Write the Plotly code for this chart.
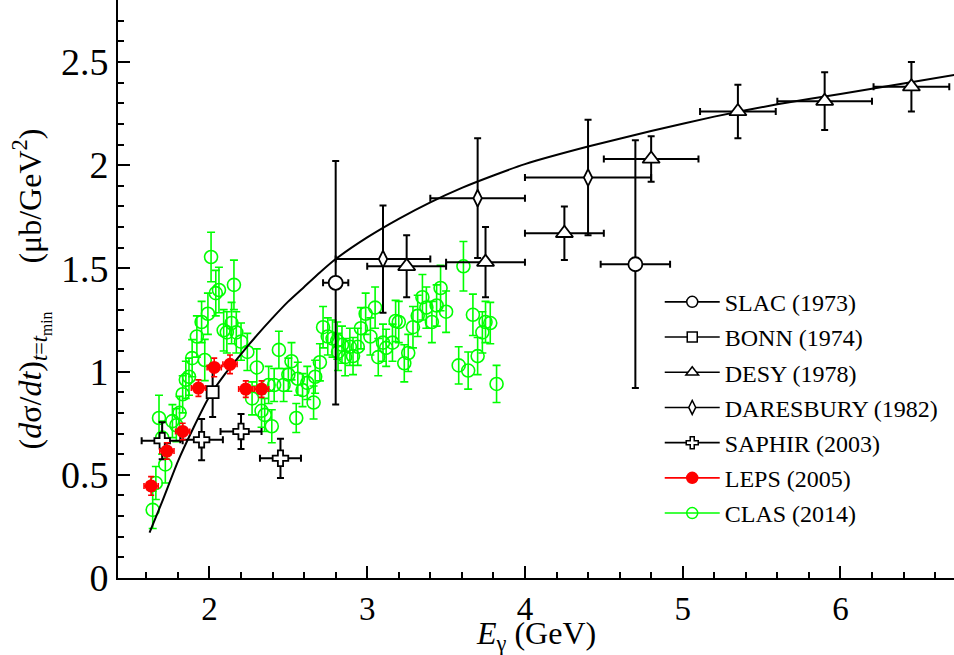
import plotly.graph_objects as go

# ---------------- data ----------------
# theory curve
curve_x = [1.62, 1.7, 1.8, 1.9, 2.0, 2.1, 2.2, 2.3, 2.4, 2.5, 2.6, 2.7, 2.8, 3.0, 3.2, 3.4, 3.6, 3.8, 4.0, 4.4, 4.8, 5.2, 5.6, 6.0, 6.4, 6.75]
curve_y = [0.22, 0.37, 0.565, 0.73, 0.88, 0.99, 1.085, 1.175, 1.26, 1.34, 1.41, 1.48, 1.545, 1.65, 1.74, 1.82, 1.89, 1.95, 2.005, 2.09, 2.165, 2.235, 2.295, 2.345, 2.395, 2.44]

slac_x = [2.8, 4.7]
slac_y = [1.43, 1.52]
slac_ey = [0.59, 0.60]
slac_ex = [0.08, 0.22]

bonn_x = [2.02]
bonn_y = [0.90]
bonn_ey = [0.12]

desy_x = [3.25, 3.75, 4.25, 4.8, 5.35, 5.9, 6.45]
desy_y = [1.51, 1.53, 1.67, 2.03, 2.26, 2.31, 2.38]
desy_ey = [0.15, 0.17, 0.13, 0.11, 0.13, 0.14, 0.12]
desy_ex = [0.25, 0.25, 0.25, 0.30, 0.24, 0.30, 0.24]

dares_x = [3.1, 3.7, 4.4]
dares_y = [1.545, 1.84, 1.94]
dares_ey = [0.26, 0.29, 0.28]
dares_ex = [0.30, 0.30, 0.40]

saphir_x = [1.70, 1.95, 2.20, 2.45]
saphir_y = [0.665, 0.67, 0.71, 0.58]
saphir_ey = [0.09, 0.10, 0.085, 0.095]
saphir_ex = [0.13, 0.135, 0.13, 0.13]

leps_x = [1.63, 1.73, 1.83, 1.93, 2.03, 2.13, 2.23, 2.33]
leps_y = [0.446, 0.615, 0.71, 0.92, 1.02, 1.035, 0.915, 0.915]
leps_ey = [0.045, 0.04, 0.04, 0.04, 0.045, 0.045, 0.04, 0.04]
leps_ex = [0.045, 0.045, 0.045, 0.045, 0.045, 0.045, 0.045, 0.045]

clas_x = [1.64, 1.66, 1.68, 1.70, 1.72, 1.765, 1.79, 1.81, 1.83, 1.85, 1.87, 1.89, 1.92, 1.95, 1.97, 1.99,
          2.01, 2.04, 2.06, 2.09, 2.11, 2.14, 2.155, 2.17, 2.20, 2.24, 2.27, 2.30, 2.33, 2.35, 2.375, 2.395,
          2.41, 2.44, 2.47, 2.50, 2.52, 2.55, 2.56, 2.59, 2.62, 2.66, 2.67, 2.70, 2.72, 2.75, 2.78, 2.81,
          2.815, 2.84, 2.86, 2.89, 2.91, 2.94, 2.96, 2.99, 3.02, 3.05, 3.07, 3.10, 3.12, 3.16, 3.18, 3.20,
          3.235, 3.26, 3.29, 3.32, 3.35, 3.375, 3.41, 3.44, 3.465, 3.50, 3.58, 3.61, 3.64, 3.67, 3.70, 3.73,
          3.75, 3.78, 3.82]
clas_y = [0.33, 0.46, 0.775, 0.68, 0.55, 0.76, 0.74, 0.80, 0.89, 0.96, 0.975, 1.065, 1.17, 1.24, 1.056, 1.28,
          1.555, 1.38, 1.395, 1.20, 1.19, 1.235, 1.42, 1.19, 1.145, 1.095, 0.87, 1.02, 0.81, 0.79, 0.935, 0.735,
          0.935, 1.105, 0.935, 0.985, 1.05, 0.775, 0.965, 0.91, 0.945, 0.85, 0.975, 1.045, 1.215, 1.17, 1.16, 1.15,
          1.095, 1.13, 1.07, 1.12, 1.075, 1.12, 1.21, 1.28, 1.17, 1.31, 1.07, 1.14, 1.115, 1.14, 1.245, 1.24,
          1.04, 1.09, 1.215, 1.27, 1.36, 1.31, 1.24, 1.32, 1.405, 1.29, 1.03, 1.51, 1.005, 1.275, 1.075, 1.19,
          1.24, 1.235, 0.94]
clas_ey = [0.09, 0.08, 0.11, 0.08, 0.09, 0.08, 0.08, 0.08, 0.09, 0.09, 0.09, 0.09, 0.10, 0.10, 0.10, 0.10,
           0.12, 0.11, 0.11, 0.10, 0.10, 0.10, 0.12, 0.10, 0.09, 0.09, 0.08, 0.09, 0.08, 0.08, 0.09, 0.08,
           0.08, 0.09, 0.08, 0.08, 0.09, 0.07, 0.08, 0.08, 0.08, 0.08, 0.08, 0.09, 0.10, 0.09, 0.09, 0.09,
           0.09, 0.09, 0.09, 0.09, 0.09, 0.09, 0.10, 0.10, 0.09, 0.10, 0.09, 0.09, 0.09, 0.09, 0.10, 0.10,
           0.09, 0.09, 0.10, 0.10, 0.11, 0.10, 0.10, 0.10, 0.11, 0.10, 0.09, 0.12, 0.09, 0.10, 0.09, 0.10,
           0.10, 0.10, 0.09]

legend_names = ["SLAC (1973)", "BONN (1974)", "DESY (1978)", "DARESBURY (1982)", "SAPHIR (2003)", "LEPS (2005)", "CLAS (2014)"]
x_title = "<i>E</i><sub>γ</sub> (GeV)"
y_title = "(<i>d</i>σ/<i>dt</i>)<sub><i>t</i>=<i>t</i><sub>min</sub></sub>\u00a0\u00a0\u00a0\u00a0\u00a0\u00a0(μb/GeV<sup>2</sup>)"

FONT = "Liberation Serif"
BLACK = "black"
GREEN = "#00ff00"
RED = "#ff0000"

fig = go.Figure()

# CLAS (drawn first, behind)
fig.add_trace(go.Scatter(
    x=clas_x, y=clas_y, mode="markers", showlegend=False,
    marker=dict(symbol="circle-open", size=13, color=GREEN, line=dict(width=1.6, color=GREEN)),
    error_y=dict(type="data", array=clas_ey, color=GREEN, thickness=1.6, width=4),
))

# theory curve
fig.add_trace(go.Scatter(x=curve_x, y=curve_y, mode="lines", showlegend=False,
                         line=dict(color=BLACK, width=2, shape="spline", smoothing=0.5)))

def black_pts(x, y, ey, ex, symbol, size):
    fig.add_trace(go.Scatter(
        x=x, y=y, mode="markers", showlegend=False,
        marker=dict(symbol=symbol, size=size, color="white", line=dict(width=1.8, color=BLACK)),
        error_y=dict(type="data", array=ey, color=BLACK, thickness=2, width=3.5),
        error_x=(dict(type="data", array=ex, color=BLACK, thickness=2, width=3.5) if ex is not None else None),
    ))

black_pts(slac_x, slac_y, slac_ey, slac_ex, "circle", 14)
black_pts(bonn_x, bonn_y, bonn_ey, None, "square", 12)
black_pts(desy_x, desy_y, desy_ey, desy_ex, "triangle-up", 15)
black_pts(dares_x, dares_y, dares_ey, dares_ex, "diamond-tall", 12)
black_pts(saphir_x, saphir_y, saphir_ey, saphir_ex, "cross", 13)

fig.add_trace(go.Scatter(
    x=leps_x, y=leps_y, mode="markers", showlegend=False,
    marker=dict(symbol="circle", size=13, color=RED, line=dict(width=0)),
    error_y=dict(type="data", array=leps_ey, color=RED, thickness=1.6, width=3),
    error_x=dict(type="data", array=leps_ex, color=RED, thickness=1.6, width=3),
))

# legend entries
leg_styles = [
    ("circle", "white", BLACK, 11),
    ("square", "white", BLACK, 10),
    ("triangle-up", "white", BLACK, 11),
    ("diamond-tall", "white", BLACK, 10),
    ("cross", "white", BLACK, 10),
    ("circle", RED, RED, 11),
    ("circle-open", GREEN, GREEN, 11),
]
for name, (sym, fill, col, sz) in zip(legend_names, leg_styles):
    fig.add_trace(go.Scatter(
        x=[None], y=[None], mode="lines+markers", name=name, legendgroup=name,
        line=dict(color=col, width=1.6),
        marker=dict(symbol=sym, size=sz, color=fill, line=dict(width=1.5, color=col)),
    ))

fig.update_layout(
    width=954, height=655,
    margin=dict(l=118, r=0, t=0, b=77),
    paper_bgcolor="white", plot_bgcolor="white",
    font=dict(family=FONT, color="black"),
    legend=dict(x=0.648, y=0.516, xanchor="left", yanchor="top", font=dict(family=FONT, size=24),
                bgcolor="rgba(0,0,0,0)", tracegroupgap=1, itemwidth=55, traceorder="grouped"),
)
fig.update_xaxes(
    range=[1.42, 6.72], showgrid=False, zeroline=False,
    showline=True, linecolor="black", linewidth=2,
    ticks="inside", ticklen=12, tickwidth=2, tickcolor="black",
    tick0=0, dtick=1, tickfont=dict(family=FONT, size=33),
    minor=dict(dtick=0.2, ticks="inside", ticklen=6, tickwidth=1.5, tickcolor="black"),
)
fig.update_yaxes(
    range=[0, 2.8], showgrid=False, zeroline=False,
    showline=True, linecolor="black", linewidth=2,
    ticks="inside", ticklen=12, tickwidth=2, tickcolor="black",
    tick0=0, dtick=0.5, tickfont=dict(family=FONT, size=38),
    minor=dict(dtick=0.1, ticks="inside", ticklen=6, tickwidth=1.5, tickcolor="black"),
    title=dict(text=y_title, font=dict(family=FONT, size=32), standoff=10),
)
fig.add_annotation(
    text=x_title, xref="paper", yref="paper", x=0.5, y=-0.099,
    xanchor="center", yanchor="middle", showarrow=False,
    font=dict(family=FONT, size=32, color="black"),
)

fig.write_html("out.html")
